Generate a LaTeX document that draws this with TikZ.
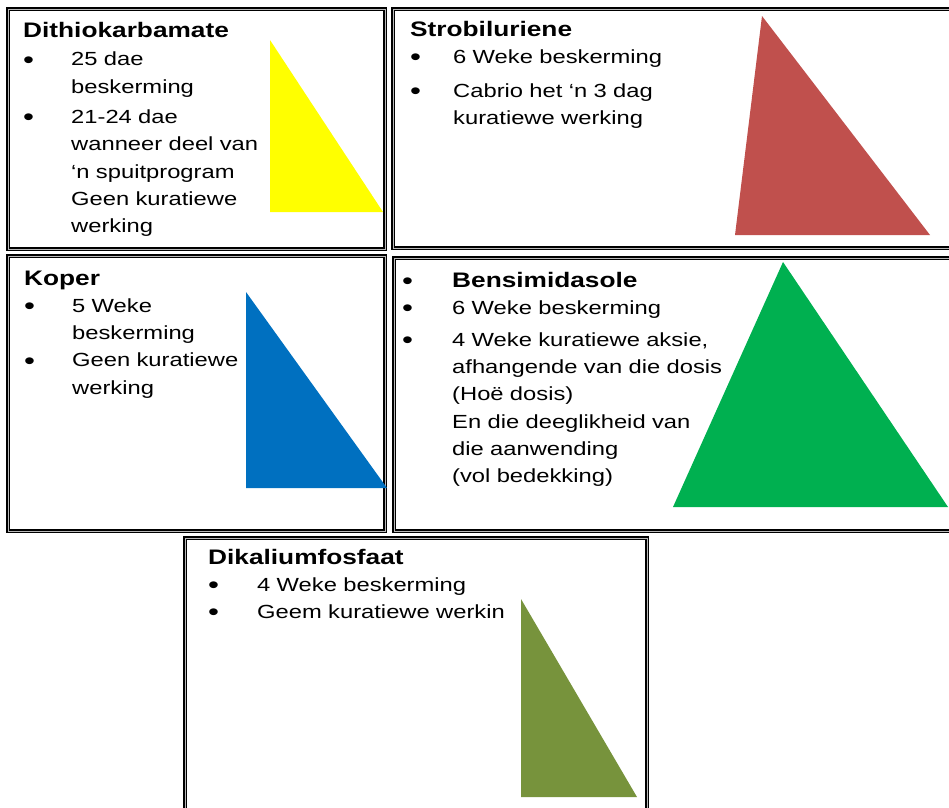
\documentclass[tikz,border=0pt]{standalone}
\usepackage{fontspec}
\setmainfont{Liberation Sans}[FakeStretch=1.25]
\definecolor{triyellow}{HTML}{FFFF00}
\definecolor{trired}{HTML}{C0504D}
\definecolor{triblue}{HTML}{0070C0}
\definecolor{trigreen}{HTML}{00B050}
\definecolor{triolive}{HTML}{77933C}
\newcommand{\ttl}[1]{{\fontsize{21}{27.3}\selectfont\bfseries #1}}
\newcommand{\itm}[2][48pt]{\makebox[#1][l]{\raisebox{-2.2pt}{\fontsize{25}{27}\selectfont•}}#2}
\newcommand{\cont}[2][48pt]{\hspace*{#1}#2}

\begin{document}
\begin{tikzpicture}[
    x=1pt, y=-1pt,
    panel/.style={draw=black, line width=1.3pt, double=gray!55, double distance=0.6pt},
    txt/.style={anchor=base west, inner sep=0pt, text width=330pt, align=left,
                font=\fontsize{19}{27.3}\selectfont}
]
\useasboundingbox (0,0) rectangle (949,807);
\clip (0,0) rectangle (949,807);

% Panels
\draw[panel] (8,9) rectangle (385,249);
\draw[panel] (393,9) rectangle (975,248);
\draw[panel] (8,256) rectangle (385,531);
\draw[panel] (394,258) rectangle (975,531);
\draw[panel] (185,538) rectangle (647,830);

% Triangles
\fill[triyellow] (270,40) -- (270,212) -- (383,212) -- cycle;
\fill[trired] (762,16) -- (735,235) -- (930,235) -- cycle;
\fill[triblue] (246,292) -- (246,488) -- (387,488) -- cycle;
\fill[trigreen] (783,262) -- (673,507) -- (948,507) -- cycle;
\fill[triolive] (521,599) -- (521,797) -- (637,797) -- cycle;

% Texts
\node[txt] (dithio) at (23,37) {\ttl{Dithiokarbamate}\\[1.5pt]
  \itm{25 dae}\\ \cont{beskerming}\\[3pt]
  \itm{21-24 dae}\\ \cont{wanneer deel van}\\ \cont{‘n spuitprogram}\\
  \cont{Geen kuratiewe}\\ \cont{werking}};
\node[txt] (strobi) at (410,36) {\ttl{Strobiluriene}\\
  \itm[43pt]{6 Weke beskerming}\\[6.5pt]
  \itm[43pt]{Cabrio het ‘n 3 dag}\\ \cont[43pt]{kuratiewe werking}};
\node[txt] (koper) at (24,285) {\ttl{Koper}\\
  \itm{5 Weke}\\ \cont{beskerming}\\
  \itm{Geen kuratiewe}\\ \cont{werking}};
\node[txt] (bensim) at (402,287) {\itm[50pt]{\ttl{Bensimidasole}}\\
  \itm[50pt]{6 Weke beskerming}\\[4.5pt]
  \itm[50pt]{4 Weke kuratiewe aksie,}\\ \cont[50pt]{afhangende van die dosis}\\
  \cont[50pt]{(Hoë dosis)}\\ \cont[50pt]{En die deeglikheid van}\\
  \cont[50pt]{die aanwending}\\ \cont[50pt]{(vol bedekking)}};
\node[txt] (dikal) at (208,564) {\ttl{Dikaliumfosfaat}\\
  \itm[49pt]{4 Weke beskerming}\\
  \itm[49pt]{Geem kuratiewe werkin}};
\end{tikzpicture}
\end{document}
